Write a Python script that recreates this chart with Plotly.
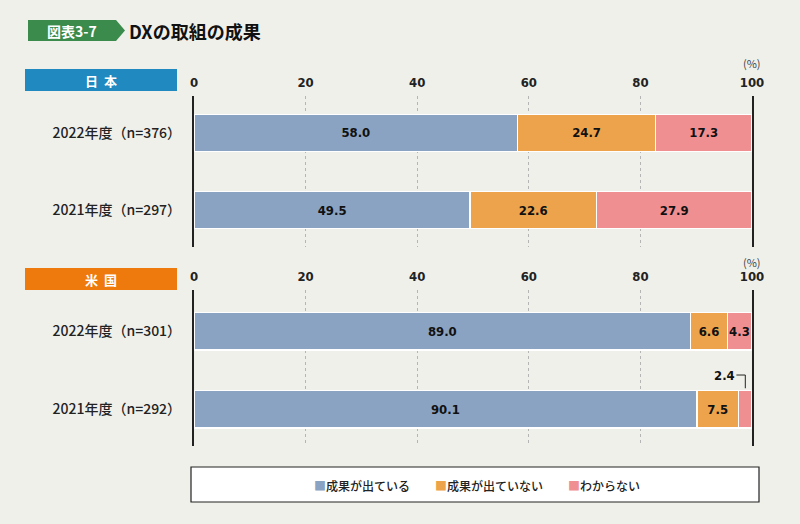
import plotly.graph_objects as go

W, H = 800, 524

series_names = ["成果が出ている", "成果が出ていない", "わからない"]
series_colors = ["#8ba3c2", "#eda34b", "#f08f91"]

jp_categories = ["2021年度（n=297）", "2022年度（n=376）"]
jp_values = {
    "成果が出ている": [49.5, 58.0],
    "成果が出ていない": [22.6, 24.7],
    "わからない": [27.9, 17.3],
}
us_categories = ["2021年度（n=292）", "2022年度（n=301）"]
us_values = {
    "成果が出ている": [90.1, 89.0],
    "成果が出ていない": [7.5, 6.6],
    "わからない": [2.4, 4.3],
}
x_ticks = [0, 20, 40, 60, 80, 100]

CJK = "Noto Sans CJK JP"
NUM = "DejaVu Sans Condensed, Liberation Sans Narrow, sans-serif"


def px(x):
    return x / W


def py(y):
    return 1 - y / H


numfont = dict(family=NUM, size=13, color="#111", weight="bold")

fig = go.Figure()

panels = [
    (jp_categories, jp_values, "x", "y"),
    (us_categories, us_values, "x2", "y2"),
]
small_labels = []
for cats, vals, xa, ya in panels:
    for name, color in zip(series_names, series_colors):
        v = vals[name]
        texts = [f"{t:.1f}" if t >= 3 else "" for t in v]
        fig.add_trace(go.Bar(
            y=list(range(len(cats))), x=v, orientation="h", name=name,
            marker=dict(color=color, line=dict(color="white", width=1.5)),
            width=0.48, text=texts, textposition="inside",
            insidetextanchor="middle", textangle=0,
            textfont=numfont,
            xaxis=xa, yaxis=ya, showlegend=False, hoverinfo="skip",
        ))
        for i, t in enumerate(v):
            if t < 3:
                start = sum(vals[n][i] for n in series_names[:series_names.index(name)])
                small_labels.append((xa, ya, i, start, t))

fig.update_layout(barmode="stack")

common_x = dict(
    range=[0, 100], tickvals=x_ticks, side="top", showgrid=True,
    gridcolor="#b5b5b5", griddash="dot", gridwidth=1, zeroline=False,
    showline=False, ticks="", ticklabelstandoff=5, automargin=False,
    tickfont=dict(family=NUM, size=13, color="#222", weight="bold"),
    fixedrange=True,
)
common_y = dict(
    showline=True, mirror=True, linecolor="#222", linewidth=2.2,
    showgrid=False, zeroline=False, ticks="", ticklabelstandoff=8, automargin=False,
    tickfont=dict(family=CJK, size=14, color="#222", weight=500), fixedrange=True,
)
fig.update_layout(
    xaxis=dict(domain=[px(194), px(752)], anchor="y", **common_x),
    yaxis=dict(domain=[py(247), py(96)], anchor="x", range=[-0.48, 1.48],
               tickvals=list(range(len(jp_categories))), ticktext=jp_categories, **common_y),
    xaxis2=dict(domain=[px(194), px(752)], anchor="y2", **common_x),
    yaxis2=dict(domain=[py(446), py(290)], anchor="x2", range=[-0.47, 1.53],
                tickvals=list(range(len(us_categories))), ticktext=us_categories, **common_y),
)

shapes = []
annotations = []

# small segment labels with bracket
for xa, ya, i, start, t in small_labels:
    mid = start + t / 2
    shapes.append(dict(type="path", xref=xa, yref=ya,
                       path=f"M {mid-1.6},{i+0.44} L {mid},{i+0.44} L {mid},{i+0.27}",
                       line=dict(color="#222", width=1)))
    annotations.append(dict(xref=xa, yref=ya, x=mid - 1.5, y=i + 0.44, text=f"{t:.1f}",
                            showarrow=False, xanchor="right", yanchor="middle",
                            font=numfont))

# (%) labels
for ya_px in (63, 262):
    annotations.append(dict(xref="paper", yref="paper", x=px(752), y=py(ya_px), text="(%)",
                            showarrow=False, xanchor="center", yanchor="middle",
                            font=dict(family=CJK, size=11, color="#444")))

# title badge
shapes.append(dict(type="path", xref="paper", yref="paper",
                   path=f"M {px(28)},{py(20)} L {px(116)},{py(20)} L {px(125)},{py(30.5)} "
                        f"L {px(116)},{py(41)} L {px(28)},{py(41)} Z",
                   fillcolor="#3b8b4c", line=dict(width=0)))
annotations.append(dict(xref="paper", yref="paper", x=px(72), y=py(31), text="図表3-7",
                        showarrow=False, xanchor="center", yanchor="middle",
                        font=dict(family=CJK, size=14, color="white", weight=600)))
annotations.append(dict(xref="paper", yref="paper", x=px(127), y=py(31), text="<b>DXの取組の成果</b>",
                        showarrow=False, xanchor="left", yanchor="middle",
                        font=dict(family=CJK, size=18, color="#111")))

# region headers
for (y0, y1, label, color) in [(69, 91, "日&nbsp;&nbsp;本", "#2089c0"),
                               (268, 290, "米&nbsp;&nbsp;国", "#ee7a0e")]:
    shapes.append(dict(type="rect", xref="paper", yref="paper", x0=px(25), x1=px(177),
                       y0=py(y1), y1=py(y0), fillcolor=color, line=dict(width=0)))
    annotations.append(dict(xref="paper", yref="paper", x=px(101), y=py((y0 + y1) / 2),
                            text=label, showarrow=False, xanchor="center",
                            yanchor="middle", font=dict(family=CJK, size=13, color="white", weight=600)))

# legend box
shapes.append(dict(type="rect", xref="paper", yref="paper", x0=px(191), x1=px(759),
                   y0=py(502), y1=py(467), fillcolor="white", line=dict(color="#222", width=1.2)))
for xl, name, color in zip([312, 433, 566], series_names, series_colors):
    annotations.append(dict(xref="paper", yref="paper", x=px(xl), y=py(485),
                            text=f"<span style='color:{color}'>■</span>{name}",
                            showarrow=False, xanchor="left", yanchor="middle",
                            font=dict(family=CJK, size=12, color="#222", weight=500)))

fig.update_layout(
    width=W, height=H, margin=dict(l=0, r=0, t=0, b=0, autoexpand=False),
    paper_bgcolor="#f0f0eb", plot_bgcolor="rgba(0,0,0,0)",
    shapes=shapes, annotations=annotations,
    uniformtext=dict(minsize=13, mode="show"),
    font=dict(family=CJK), hovermode=False, dragmode=False,
)

fig.write_html(
    "out.html",
    config={"displayModeBar": False, "responsive": False},
    post_script=(
        "document.body.style.margin='0';"
        "document.documentElement.style.overflow='hidden';"
        "document.body.style.background='#f0f0eb';"
        "var gd=document.getElementById('{plot_id}');"
        "Plotly.relayout(gd,{width:800,height:524});"
    ),
)
